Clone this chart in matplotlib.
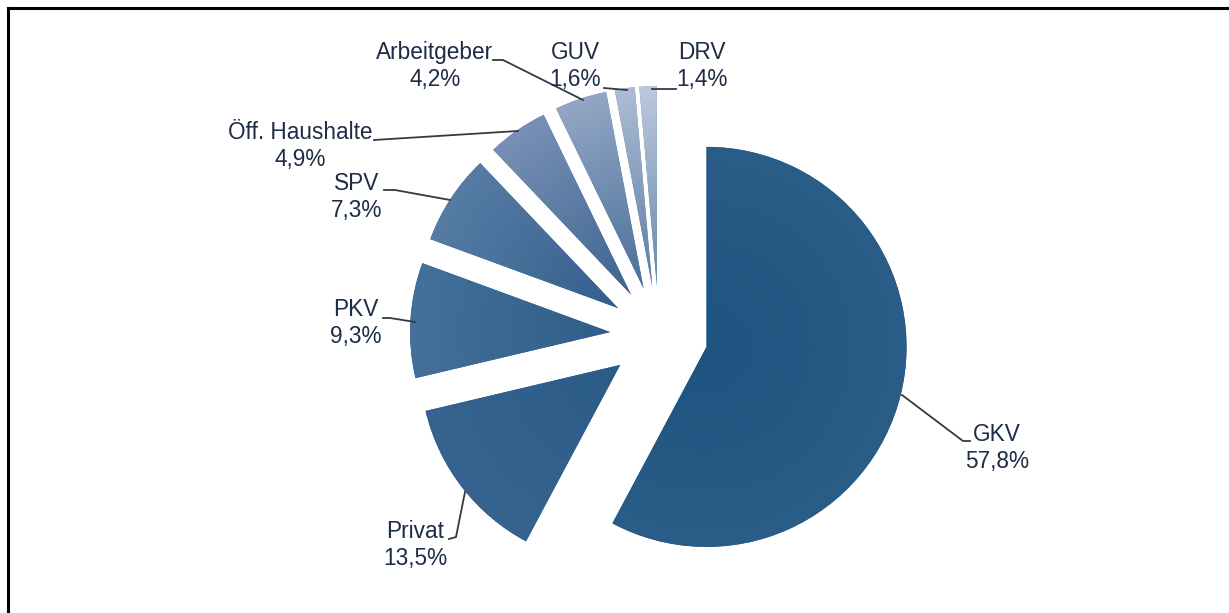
import numpy as np
import matplotlib
matplotlib.use('Agg')
import matplotlib.pyplot as plt
from matplotlib.colors import to_rgb

# Gesundheitsausgaben nach Ausgabenträgern
traeger = ['GKV', 'Privat', 'PKV', 'SPV', 'Öff. Haushalte', 'Arbeitgeber', 'GUV', 'DRV']
anteile = [57.8, 13.5, 9.3, 7.3, 4.9, 4.2, 1.6, 1.4]
beschriftung = ['57,8%', '13,5%', '9,3%', '7,3%', '4,9%', '4,2%', '1,6%', '1,4%']

# Farbverlauf je Segment: innen (Spitze) -> außen (Bogen)
farbe_innen = ['#1f5480', '#2b5b88', '#2f5e8a', '#335f8b', '#3c6590', '#4a6f99', '#5b7da4', '#6887ac']
farbe_aussen = ['#2a5d87', '#36648f', '#44709a', '#567ca5', '#7890b5', '#93a7c5', '#aebdd4', '#bccadd']

W, H = 1229, 613
plt.rcParams['font.family'] = ['Liberation Sans', 'DejaVu Sans']

fig = plt.figure(figsize=(W / 100, H / 100), dpi=100)
ax = fig.add_axes([0, 0, 1, 1])

def py(y):
    # Pixelzeile von oben -> Datenkoordinate von unten
    return H - y

radius = 200
# pie verschiebt die Segmente um explode in Dateneinheiten
wedges, _ = ax.pie(anteile, startangle=90, counterclock=False,
                   center=(659, py(335)), radius=radius,
                   explode=[0.245 * radius] * len(anteile),
                   wedgeprops=dict(linewidth=0), frame=True)

# Verlauf in jedes Segment legen
xs = np.arange(W) + 0.5
ys = np.arange(H) + 0.5
X, Y = np.meshgrid(xs, ys)
for w, ci, co in zip(wedges, farbe_innen, farbe_aussen):
    cx, cy = w.center
    t = np.clip(np.hypot(X - cx, Y - cy) / w.r, 0, 1)[..., None]
    img = np.array(to_rgb(ci)) * (1 - t) + np.array(to_rgb(co)) * t
    im = ax.imshow(img, extent=(0, W, 0, H), origin='lower', zorder=2,
                   interpolation='bilinear')
    im.set_clip_path(w)
    w.set_facecolor(to_rgb(ci))

# Beschriftungen (Mitte des Textblocks) und Führungslinien
label_pos = [(997, 448), (415, 545), (356, 323), (357, 197),
             (300, 146), (435, 66), (575, 66), (702, 66)]
leader = [
    [(902, 395), (963, 441), (970, 441)],
    [(465, 492), (456, 537), (449, 539)],
    [(383, 318), (390, 318), (415, 322)],
    [(384, 190), (395, 190), (450, 200)],
    [(374, 140), (518, 131)],
    [(493, 60), (503, 60), (583, 100)],
    [(604, 88), (627, 90)],
    [(652, 89), (676, 89)],
]

for name, txt, (lx, ly), pts in zip(traeger, beschriftung, label_pos, leader):
    ax.text(lx, py(ly), f'{name}\n{txt}', ha='center', va='center',
            fontsize=16.3, color='#1d2d45', zorder=5)
    px_, py_ = zip(*pts)
    ax.plot(px_, [py(v) for v in py_], color='#333a44', lw=1.3, zorder=4)

# Rahmen oben und links
ax.plot([7.5, W], [py(7.5), py(7.5)], color='black', lw=2.2, zorder=6)
ax.plot([7.5, 7.5], [py(7.5), 0], color='black', lw=2.2, zorder=6)

ax.set_xlim(0, W)
ax.set_ylim(0, H)
ax.set_aspect('auto')
ax.axis('off')

fig.savefig('out.png', dpi=100)
